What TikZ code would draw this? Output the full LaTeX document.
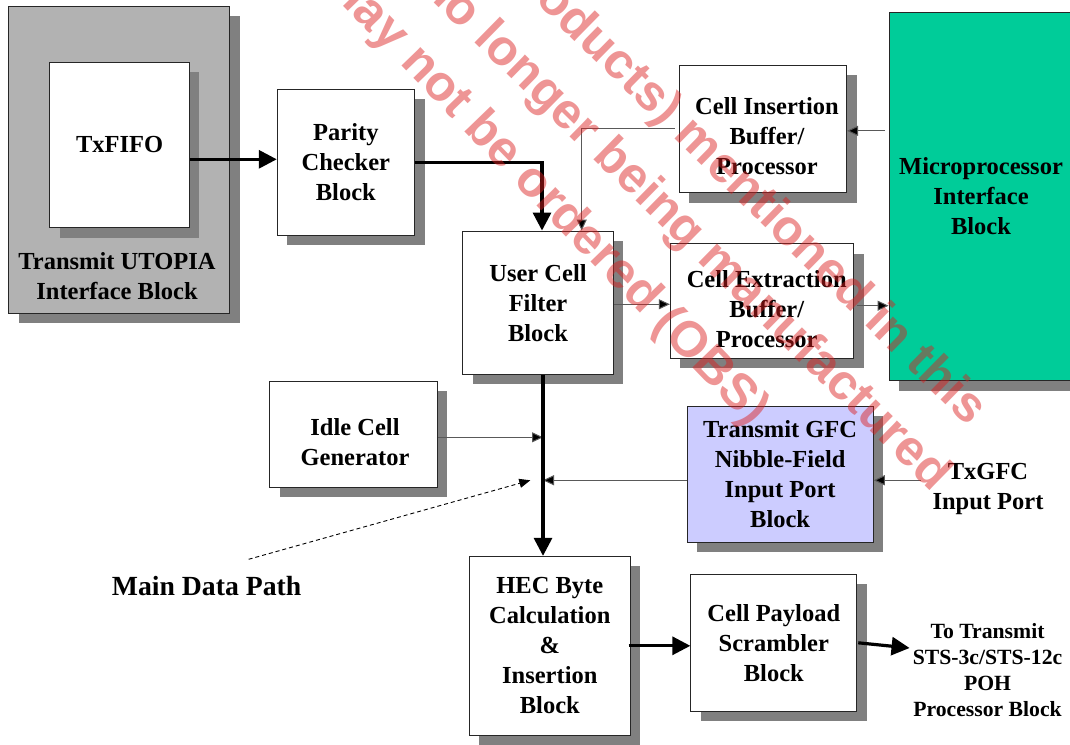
\documentclass[tikz,border=0pt]{standalone}
\usepackage{fontspec}
\setmainfont{Liberation Serif}
\newfontfamily\wmfont{Liberation Sans}
\usetikzlibrary{arrows.meta,shadows}
\definecolor{utgray}{RGB}{178,178,178}
\definecolor{shgray}{RGB}{128,128,128}
\definecolor{mpgreen}{RGB}{0,204,153}
\definecolor{gfcblue}{RGB}{204,204,255}
\definecolor{wmred}{RGB}{220,30,30}
\newcommand{\bxfont}{\fontsize{24.5}{30}\selectfont\bfseries}
\newcommand{\smfont}{\fontsize{21.7}{25.8}\selectfont\bfseries}
\newcommand{\mdfont}{\fontsize{27.7}{32}\selectfont\bfseries}
\newcommand{\wmsize}{\wmfont\bfseries\fontsize{50}{75}\selectfont}
\begin{document}
\begin{tikzpicture}[x=1pt,y=-1pt,
  blk/.style={draw=black!85, line width=0.9pt, fill=white, inner sep=0pt,
    align=center, font=\bxfont,
    drop shadow={shadow xshift=10pt, shadow yshift=-10pt, fill=shgray, opacity=1}},
  txt/.style={align=center, font=\bxfont, inner sep=0pt},
  thk/.style={line width=3.2pt, -{Triangle[length=18pt,width=18pt]}},
  thn/.style={draw=black!65, line width=1pt, -{Triangle[length=11pt,width=10pt,fill=black]}},
  dsh/.style={black, line width=0.9pt, dash pattern=on 4pt off 3pt, -{Triangle[length=11pt,width=9pt]}},
  wm/.style={font=\wmsize, text=wmred, text opacity=0.47, inner sep=0pt, anchor=base west}]
\path[use as bounding box] (0,0) rectangle (1070,744);
\clip (0,0) rectangle (1070,744);
\fill[white] (0,0) rectangle (1070,744);

% blocks
\node[blk, fill=utgray, minimum width=221.1pt, minimum height=307.3pt] (utopia) at (119.15,159.65) {};
\node[txt] (utlabel) at (117,276.2) {Transmit UTOPIA\\Interface Block};
\node[blk, minimum width=139.5pt, minimum height=165.4pt] (txfifo) at (119.65,145) {TxFIFO};
\node[blk, minimum width=137.3pt, minimum height=145.7pt] (parity) at (345.85,162.15) {Parity\\Checker\\Block};
\node[blk, minimum width=150.6pt, minimum height=143.3pt] (filter) at (538,302.65) {User Cell\\Filter\\Block};
\node[blk, minimum width=167.6pt, minimum height=127.7pt] (ins) at (762.8,128.85) {};
\node[txt] (instext) at (767,136.2) {Cell Insertion\\Buffer/\\Processor};
\node[blk, minimum width=183.4pt, minimum height=114.6pt] (ext) at (762,301) {};
\node[txt] (exttext) at (766.7,309.1) {Cell Extraction\\Buffer/\\Processor};
\node[blk, fill=mpgreen, minimum width=184pt, minimum height=368.7pt] (micro) at (981,196.35) {Microprocessor\\Interface\\Block};
\node[blk, minimum width=167.7pt, minimum height=106pt] (idle) at (353.45,434.3) {};
\node[txt] (idletext) at (355,442) {Idle Cell\\Generator};
\node[blk, fill=gfcblue, minimum width=186.3pt, minimum height=136.3pt] (gfc) at (780.15,474.15) {Transmit GFC\\Nibble-Field\\Input Port\\Block};
\node[txt, inner xsep=11.7pt] (txgfc) at (988,489.2) {TxGFC\\Input Port};
\node[blk, minimum width=160.8pt, minimum height=179pt] (hec) at (549.8,645.8) {HEC Byte\\Calculation\\\&\\Insertion\\Block};
\node[blk, minimum width=166pt, minimum height=137pt] (scr) at (773.8,642.8) {Cell Payload\\Scrambler\\Block};
\node[align=center, font=\smfont, inner sep=3pt] (totx) at (987.5,670) {To Transmit\\STS-3c/STS-12c\\POH\\Processor Block};
\node[font=\mdfont, inner sep=0pt] (mdp) at (206.6,586.3) {Main Data Path};

% connectors
\coordinate (a1) at ([yshift=-14.3pt]txfifo.east);
\draw[thk] (a1) -- (a1 -| parity.west);
\coordinate (a2) at ([xshift=4pt]filter.north);
\draw[thk] (parity.east) -| (a2);
\coordinate (a3s) at ([xshift=-4pt]ins.west);
\coordinate (a3e) at ([xshift=43.7pt]filter.north);
\draw[thn] (a3s) -| (a3e);
\coordinate (a4) at ([yshift=-2pt]ins.east);
\coordinate (m1) at ([xshift=-4pt]micro.west);
\draw[thn] (m1 |- a4) -- (a4);
\coordinate (a5) at ([yshift=-1.6pt]filter.east);
\draw[thn] (a5) -- (a5 -| ext.west);
\coordinate (a6) at ([xshift=3pt,yshift=-4.7pt]ext.east);
\draw[thn] (a6) -- (a6 -| micro.west);
\coordinate (trk) at ([xshift=5pt]filter.south);
\coordinate (a7) at ([yshift=-3pt]idle.east);
\draw[thn] (a7) -- (a7 -| trk);
\coordinate (a8) at ([yshift=-6.1pt]gfc.west);
\draw[thn] (a8) -- (a8 -| trk);
\draw[thk] (trk) -- (trk |- hec.north);
\coordinate (a9) at ([yshift=-6.1pt]gfc.east);
\draw[thn] (a9 -| txgfc.west) -- (a9);
\coordinate (b0) at ([xshift=-2pt]hec.east);
\draw[thk] (b0) -- (b0 -| scr.west);
\coordinate (b1) at ([xshift=1pt]scr.east);
\coordinate (b2) at ([yshift=22pt]totx.west);
\draw[thk] (b1) -- (b2);
\coordinate (d1) at (248.6,559.3);
\coordinate (d2) at (530.3,480.3);
\draw[dsh] (d1) -- (d2);

% watermark
\node[wm, rotate=-44.5] (wm1) at (498.4,-34.5) {products) mentioned in this};
\node[wm, rotate=-44.5] (wm2) at (419,-12) {no longer being manufactured};
\node[wm, rotate=-46] (wm3) at (319.8,-18.8) {may not be ordered (OBS)};
\end{tikzpicture}
\end{document}
